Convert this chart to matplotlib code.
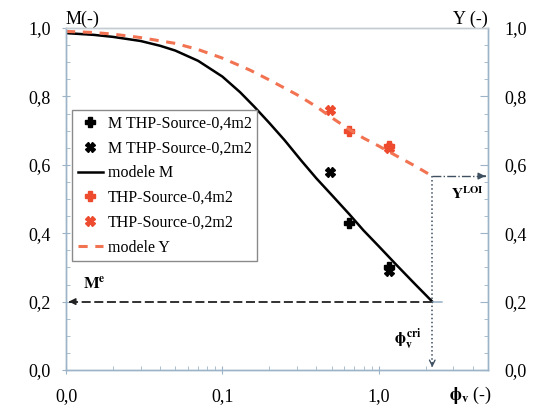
import matplotlib
matplotlib.use("Agg")
import matplotlib.pyplot as plt
from matplotlib.ticker import FixedLocator, FuncFormatter, MultipleLocator

plt.rcParams['font.family'] = ['Liberation Serif', 'DejaVu Serif']
plt.rcParams['mathtext.fontset'] = 'stix'

# model curves
phi_m = [0.01, 0.015, 0.02, 0.03, 0.04, 0.05, 0.07, 0.1, 0.13, 0.16, 0.2, 0.25,
         0.32, 0.4, 0.5, 0.65, 0.8, 1.0, 1.3, 1.7, 2.2]
m_model = [0.985, 0.980, 0.974, 0.962, 0.948, 0.934, 0.904, 0.858, 0.812, 0.770, 0.722, 0.672,
           0.612, 0.560, 0.512, 0.455, 0.408, 0.362, 0.307, 0.252, 0.2]
phi_y = [0.01, 0.015, 0.02, 0.03, 0.05, 0.07, 0.1, 0.15, 0.2, 0.3, 0.4, 0.5,
         0.65, 0.8, 1.0, 1.3, 1.7, 2.2]
y_model = [0.99, 0.987, 0.982, 0.972, 0.955, 0.937, 0.912, 0.877, 0.848, 0.805, 0.770, 0.738,
           0.703, 0.678, 0.655, 0.626, 0.597, 0.567]

# measured points
phi_m04 = [0.65, 1.16]
m_m04 = [0.43, 0.30]
phi_m02 = [0.485, 1.16]
m_m02 = [0.578, 0.29]
phi_y04 = [0.65, 1.16]
y_y04 = [0.70, 0.655]
phi_y02 = [0.485, 1.16]
y_y02 = [0.76, 0.65]

phi_cri = 2.2
m_e = 0.2
y_loi = 0.567

red = '#ee4a2e'
red_line = '#f27352'
spine = '#9db4c8'
guide = '#3d4f60'

fig = plt.figure(figsize=(5.33, 4.07), dpi=100)
ax = fig.add_axes([66/533, 37/407, 422/533, 342/407])
ax.set_xscale('log')
ax.set_xlim(0.01, 5)
ax.set_ylim(0, 1.0)

ax.plot(phi_m04, m_m04, ls='none', marker='P', ms=6.5, color='black', label='M THP-Source-0,4m2')
ax.plot(phi_m02, m_m02, ls='none', marker='X', ms=6.5, color='black', label='M THP-Source-0,2m2')
ax.plot(phi_m, m_model, color='black', lw=1.8, label='modele M')
ax.plot(phi_y04, y_y04, ls='none', marker='P', ms=6.5, color=red, label='THP-Source-0,4m2')
ax.plot(phi_y02, y_y02, ls='none', marker='X', ms=6.5, color=red, label='THP-Source-0,2m2')
ax.plot(phi_y, y_model, color=red_line, lw=2.2, ls=(0, (3, 2.5)), label='modele Y')

# guide lines
ax.plot([0.0105, phi_cri], [m_e, m_e], color='#222222', lw=1.3, ls=(0, (5, 2)))
ax.annotate('', xy=(0.01, m_e), xytext=(0.0115, m_e),
            arrowprops=dict(arrowstyle='-|>', color='#222222', lw=1, mutation_scale=10))
ax.plot([phi_cri, 2.65], [m_e, m_e], color=spine, lw=1.2, ls='-.')
ax.plot([phi_cri, phi_cri], [y_loi, 0.01], color=guide, lw=1.1, ls=':')
ax.annotate('', xy=(phi_cri, 0.0), xytext=(phi_cri, 0.03),
            arrowprops=dict(arrowstyle='->', color=guide, lw=1, mutation_scale=10))
ax.plot([phi_cri, 4.9], [y_loi, y_loi], color=guide, lw=1.0, ls='-.')
ax.annotate('', xy=(5.0, y_loi), xytext=(4.6, y_loi),
            arrowprops=dict(arrowstyle='-|>', color=guide, lw=1, mutation_scale=10))

ax.text(0.0128, 0.25, r'$\mathbf{M^e}$', fontsize=12, va='center', ha='left')
ax.text(2.9, 0.515, r'$\mathbf{Y^{LOI}}$', fontsize=11, va='center', ha='left')
ax.text(1.25, 0.09, r'$\mathbf{\phi_v^{\,cri}}$', fontsize=12, va='center', ha='left')
ax.text(0.0, 1.0, 'M(-)', transform=ax.transAxes, fontsize=13, ha='left', va='bottom')
ax.text(1.0, 1.0, 'Y (-)', transform=ax.transAxes, fontsize=13, ha='right', va='bottom')
ax.text(1.01, -0.075, r'$\mathbf{\phi_v}$ (-)', transform=ax.transAxes, fontsize=13,
        ha='right', va='center')

fmt = FuncFormatter(lambda v, p: f'{v:.1f}'.replace('.', ','))
ax.xaxis.set_major_locator(FixedLocator([0.01, 0.1, 1.0]))
ax.xaxis.set_major_formatter(fmt)
ax.xaxis.set_minor_locator(FixedLocator([k * d for d in (0.01, 0.1, 1.0) for k in range(2, 10) if k * d < 5.01]))
ax.xaxis.set_minor_formatter(FuncFormatter(lambda v, p: ''))
ax.yaxis.set_major_locator(MultipleLocator(0.2))
ax.yaxis.set_minor_locator(MultipleLocator(0.05))
ax.yaxis.set_major_formatter(fmt)

ax.tick_params(axis='both', which='major', labelsize=13, color=spine, length=6, direction='inout')
ax.tick_params(axis='both', which='minor', color=spine, length=3, direction='in')
ax.tick_params(axis='x', which='major', pad=10)
ax.tick_params(axis='y', which='major', pad=8)

ax2 = ax.twinx()
ax2.set_ylim(0, 1.0)
ax2.yaxis.set_major_locator(MultipleLocator(0.2))
ax2.yaxis.set_minor_locator(MultipleLocator(0.05))
ax2.yaxis.set_major_formatter(fmt)
ax2.tick_params(axis='y', which='major', labelsize=13, color=spine, length=6, direction='in', pad=12)
ax2.tick_params(axis='y', which='minor', color=spine, length=3, direction='in')

for a in (ax, ax2):
    for s in a.spines.values():
        s.set_color(spine)
        s.set_linewidth(1.0)
    a.spines['top'].set_color('#c4ccd2')

leg = ax.legend(loc='upper left', bbox_to_anchor=(6/422, 260/342), fontsize=11.5,
                frameon=True, fancybox=False, edgecolor='#8a8a8a', framealpha=1,
                handlelength=1.6, handletextpad=0.3, labelspacing=0.55, borderpad=0.35,
                borderaxespad=0)
leg.get_frame().set_linewidth(1.0)

fig.savefig('out.png', dpi=100)
